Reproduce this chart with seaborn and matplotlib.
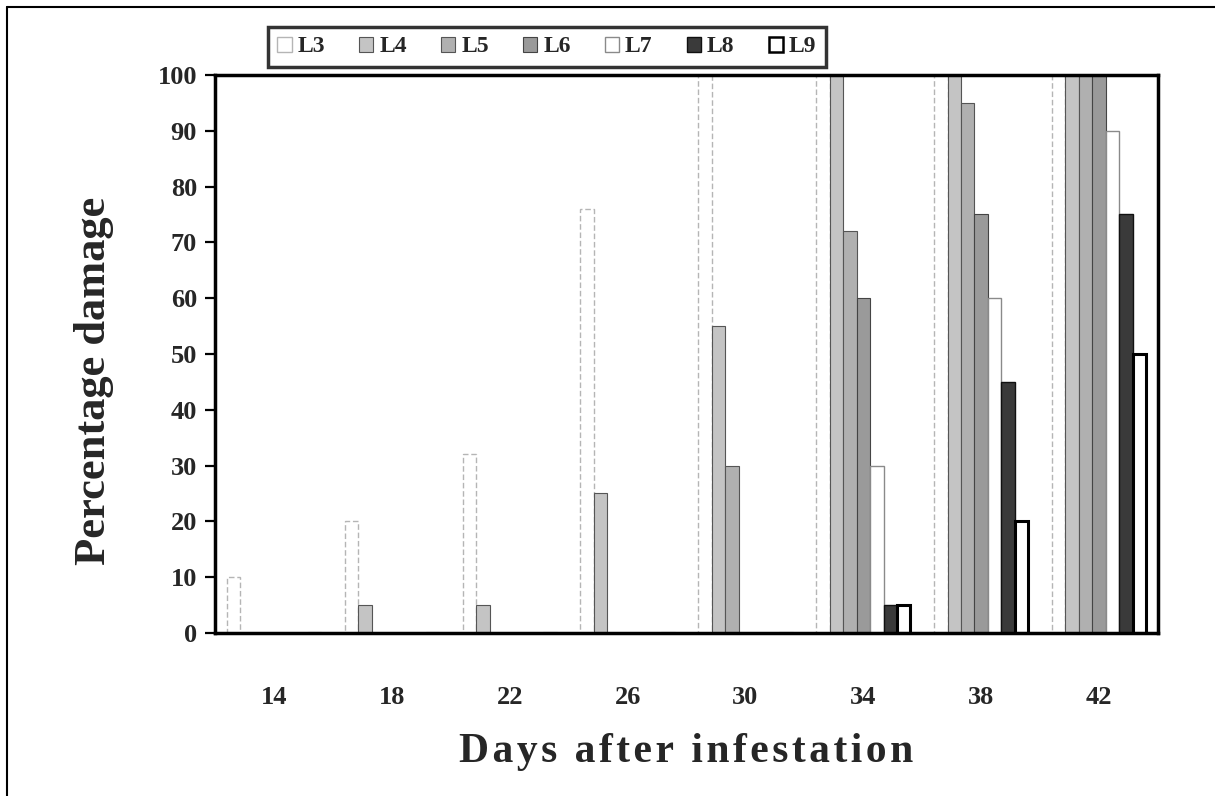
import pandas as pd
import matplotlib
matplotlib.use('Agg')
import matplotlib.pyplot as plt
from matplotlib.patches import Patch
from matplotlib.lines import Line2D
import seaborn as sns

# data (percentage damage per line, per day)
days = [14, 18, 22, 26, 30, 34, 38, 42]
lines = ['L3', 'L4', 'L5', 'L6', 'L7', 'L8', 'L9']
L3 = [10, 20, 32, 76, 100, 100, 100, 100]
L4 = [0, 5, 5, 25, 55, 100, 100, 100]
L5 = [0, 0, 0, 0, 30, 72, 95, 100]
L6 = [0, 0, 0, 0, 0, 60, 75, 100]
L7 = [0, 0, 0, 0, 0, 30, 60, 90]
L8 = [0, 0, 0, 0, 0, 5, 45, 75]
L9 = [0, 0, 0, 0, 0, 5, 20, 50]
y_ticks = [0, 10, 20, 30, 40, 50, 60, 70, 80, 90, 100]

# long table for seaborn
rows = []
for name, vals in zip(lines, [L3, L4, L5, L6, L7, L8, L9]):
    for d, v in zip(days, vals):
        rows.append({'day': str(d), 'line': name, 'damage': v})
df = pd.DataFrame(rows)

sns.set_style('white')
plt.rcParams['font.family'] = ['Liberation Serif', 'DejaVu Serif']
plt.rcParams['font.weight'] = 'bold'

# greys of the scanned figure
face = ['#ffffff', '#c4c4c4', '#b0b0b0', '#9a9a9a', '#ffffff', '#3a3a3a', '#ffffff']
edge = ['#b5b5b5', '#555555', '#555555', '#444444', '#8a8a8a', '#111111', '#000000']
edge_w = [1.0, 0.8, 0.8, 0.8, 1.0, 1.0, 2.2]
edge_ls = [(0, (4, 2)), '-', '-', '-', '-', '-', '-']

fig = plt.figure(figsize=(12.15, 7.96), dpi=100)
ax = fig.add_axes([0.177, 0.2048, 0.9531 - 0.177, 0.9058 - 0.2048])

sns.barplot(data=df, x='day', y='damage', hue='line', hue_order=lines,
            order=[str(d) for d in days], palette=face, width=0.8,
            saturation=1, ax=ax, legend=False)

for i, cont in enumerate(ax.containers):
    for bar in cont:
        bar.set_facecolor(face[i])
        bar.set_edgecolor(edge[i])
        bar.set_linewidth(edge_w[i])
        bar.set_linestyle(edge_ls[i])

ax.set_ylim(0, 100)
ax.set_xlim(-0.5, len(days) - 0.5)
ax.set_yticks(y_ticks)
ax.set_yticklabels([str(t) for t in y_ticks], fontsize=19, fontweight='bold')
ax.set_xticks(range(len(days)))
ax.set_xticklabels([str(d) for d in days], fontsize=19, fontweight='bold')
ax.set_xticks([i - 0.5 for i in range(len(days) + 1)], minor=True)
ax.tick_params(axis='x', which='major', length=0, pad=38)
ax.tick_params(axis='x', which='minor', direction='out', length=9, width=2.2, color='black')
ax.tick_params(axis='y', direction='out', length=7, width=1.6, color='black', pad=6, left=True)

for s in ax.spines.values():
    s.set_visible(True)
    s.set_color('black')
    s.set_linewidth(2.5)

ax.set_ylabel('Percentage damage', fontsize=32, fontweight='bold')
ax.yaxis.set_label_coords(-0.107, 0.452)
xlab = '\u200a'.join('Days after infestation')
ax.set_xlabel(xlab, fontsize=30, fontweight='bold')
ax.xaxis.set_label_coords(0.5, -0.18)

# legend above the plot area
handles = [Patch(facecolor=face[i], edgecolor=edge[i], linewidth=edge_w[i] if i != 6 else 1.8,
                 label=lines[i]) for i in range(len(lines))]
leg = fig.legend(handles=handles, loc='upper left', bbox_to_anchor=(268 / 1215, 1 - 27 / 796),
                 ncol=7, frameon=True, fancybox=False, edgecolor='black', fontsize=17,
                 handlelength=0.6, handleheight=0.6, handletextpad=0.25, columnspacing=1.45,
                 borderpad=0.4, borderaxespad=0)
leg.get_frame().set_linewidth(2.5)
for t in leg.get_texts():
    t.set_fontweight('bold')

# frame lines of the scanned page
fig.add_artist(Line2D([7 / 1215, 7 / 1215], [0, 1 - 7 / 796], transform=fig.transFigure,
                      color='black', lw=1.5))
fig.add_artist(Line2D([7 / 1215, 1], [1 - 7 / 796, 1 - 7 / 796], transform=fig.transFigure,
                      color='black', lw=1.5))

fig.savefig('out.png', dpi=100)
plt.close(fig)
